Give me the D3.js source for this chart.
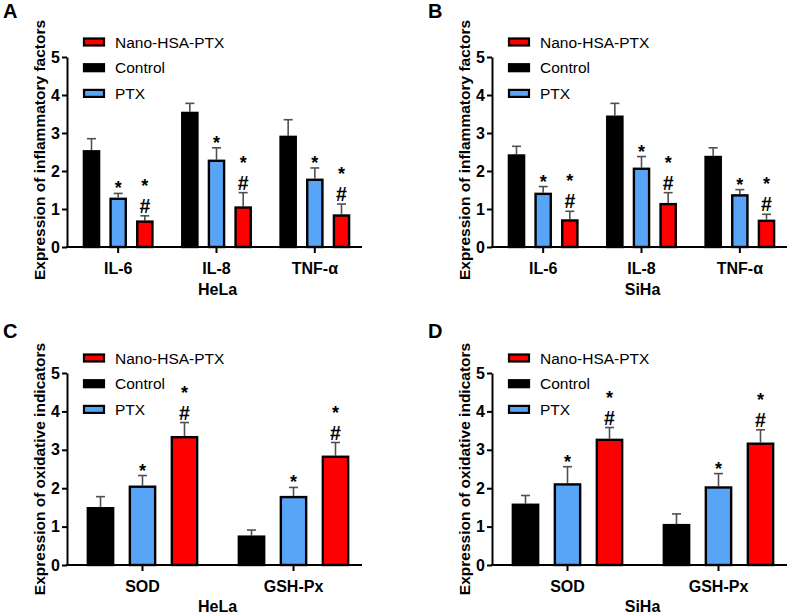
<!DOCTYPE html>
<html>
<head>
<meta charset="utf-8">
<script src="https://cdn.jsdelivr.net/npm/d3@7"></script>
<style>
  html, body { margin: 0; padding: 0; background: #fff; }
  svg { display: block; }
  text { font-family: Arial, "Liberation Sans", sans-serif; }
</style>
</head>
<body>
<svg id="chart" width="789" height="615"></svg>
<script>
// ---------- data ----------
const groups = ["Control", "PTX", "Nano-HSA-PTX"];
const legendOrder = ["Nano-HSA-PTX", "Control", "PTX"];
const groupColors = ["#000000", "#58A4F7", "#FF0000"];
const groupMarks = ["", "*", "*#"];
const yTicks = [0, 1, 2, 3, 4, 5];

const inflamCats = ["IL-6", "IL-8", "TNF-α"];
const oxCats = ["SOD", "GSH-Px"];

// Panel A: HeLa inflammatory factors
const helaInflamControl = [2.55, 3.56, 2.93];
const helaInflamControlErr = [0.30, 0.22, 0.42];
const helaInflamPTX = [1.30, 2.30, 1.80];
const helaInflamPTXErr = [0.11, 0.31, 0.28];
const helaInflamNano = [0.70, 1.07, 0.86];
const helaInflamNanoErr = [0.12, 0.36, 0.27];

// Panel B: SiHa inflammatory factors
const sihaInflamControl = [2.44, 3.46, 2.40];
const sihaInflamControlErr = [0.21, 0.32, 0.21];
const sihaInflamPTX = [1.43, 2.09, 1.39];
const sihaInflamPTXErr = [0.16, 0.29, 0.12];
const sihaInflamNano = [0.73, 1.16, 0.72];
const sihaInflamNanoErr = [0.21, 0.27, 0.14];

// Panel C: HeLa oxidative indicators
const helaOxControl = [1.51, 0.77];
const helaOxControlErr = [0.27, 0.14];
const helaOxPTX = [2.07, 1.80];
const helaOxPTXErr = [0.26, 0.22];
const helaOxNano = [3.36, 2.85];
const helaOxNanoErr = [0.35, 0.34];

// Panel D: SiHa oxidative indicators
const sihaOxControl = [1.60, 1.07];
const sihaOxControlErr = [0.21, 0.26];
const sihaOxPTX = [2.13, 2.05];
const sihaOxPTXErr = [0.43, 0.33];
const sihaOxNano = [3.29, 3.19];
const sihaOxNanoErr = [0.29, 0.33];

const panels = [
  { letter: "A", cats: inflamCats, yTitle: "Expression of inflammatory factors", xTitle: "HeLa",
    values: [helaInflamControl, helaInflamPTX, helaInflamNano],
    errs: [helaInflamControlErr, helaInflamPTXErr, helaInflamNanoErr], col: 0, row: 0 },
  { letter: "B", cats: inflamCats, yTitle: "Expression of inflammatory factors", xTitle: "SiHa",
    values: [sihaInflamControl, sihaInflamPTX, sihaInflamNano],
    errs: [sihaInflamControlErr, sihaInflamPTXErr, sihaInflamNanoErr], col: 1, row: 0 },
  { letter: "C", cats: oxCats, yTitle: "Expression of oxidative indicators", xTitle: "HeLa",
    values: [helaOxControl, helaOxPTX, helaOxNano],
    errs: [helaOxControlErr, helaOxPTXErr, helaOxNanoErr], col: 0, row: 1 },
  { letter: "D", cats: oxCats, yTitle: "Expression of oxidative indicators", xTitle: "SiHa",
    values: [sihaOxControl, sihaOxPTX, sihaOxNano],
    errs: [sihaOxControlErr, sihaOxPTXErr, sihaOxNanoErr], col: 1, row: 1 }
];

// ---------- layout ----------
const svg = d3.select("#chart");
const colX = [67, 492];
const rowY = [{ top: 57, bottom: 247 }, { top: 373, bottom: 565 }];
const axisLen = 295;

panels.forEach(p => {
  const left = colX[p.col];
  const right = left + axisLen;
  const top = rowY[p.row].top;
  const bottom = rowY[p.row].bottom;
  const g = svg.append("g");
  const nCat = p.cats.length;

  const y = d3.scaleLinear().domain([0, 5]).range([bottom, top]);
  const x0 = d3.scaleBand().domain(p.cats)
    .range(nCat === 3 ? [left + 2, left + 297] : [left, left + 302])
    .paddingInner(0).paddingOuter(0);
  const half = nCat === 3 ? 40 : 63;
  const x1 = d3.scaleBand().domain(groups).range([-half, half])
    .paddingInner(0.34).paddingOuter(0.17);

  // bars
  p.cats.forEach((c, ci) => {
    const cx = x0(c) + x0.bandwidth() / 2;
    groups.forEach((grp, gi) => {
      const v = p.values[gi][ci];
      const e = p.errs[gi][ci];
      const bx = cx + x1(grp);
      const bw = x1.bandwidth();
      const bcx = bx + bw / 2;
      // error bar (upper only)
      g.append("line")
        .attr("x1", bcx).attr("x2", bcx)
        .attr("y1", y(v)).attr("y2", y(v + e))
        .attr("stroke", "#505050").attr("stroke-width", 1.6);
      g.append("line")
        .attr("x1", bcx - 4.5).attr("x2", bcx + 4.5)
        .attr("y1", y(v + e)).attr("y2", y(v + e))
        .attr("stroke", "#505050").attr("stroke-width", 1.6);
      g.append("rect")
        .attr("x", bx + 1.2).attr("y", y(v) + 1.2)
        .attr("width", bw - 2.4).attr("height", y(0) - y(v) - 1.2)
        .attr("fill", groupColors[gi])
        .attr("stroke", "#000").attr("stroke-width", 2.4);
      // significance marks
      const m = groupMarks[gi];
      const errTop = y(v + e);
      if (m === "*") {
        g.append("text").attr("x", bcx).attr("y", errTop + 1)
          .attr("text-anchor", "middle").attr("font-weight", "bold")
          .attr("font-size", 18).text("*");
      } else if (m === "*#") {
        g.append("text").attr("x", bcx).attr("y", errTop - 3)
          .attr("text-anchor", "middle").attr("font-weight", "bold")
          .attr("font-size", 19.5).text("#");
        g.append("text").attr("x", bcx).attr("y", errTop - 24)
          .attr("text-anchor", "middle").attr("font-weight", "bold")
          .attr("font-size", 18).text("*");
      }
    });
  });

  // y axis
  const yAxis = g.append("g").attr("transform", `translate(${left},0)`)
    .call(d3.axisLeft(y).tickValues(yTicks).tickFormat(d3.format("d")).tickSize(5).tickSizeOuter(0).tickPadding(2));
  yAxis.select(".domain").attr("stroke-width", 2);
  yAxis.selectAll(".tick line").attr("stroke-width", 2);
  yAxis.selectAll(".tick text").attr("font-size", 16).attr("font-weight", "bold")
    .attr("fill", "#000").attr("font-family", "Arial, 'Liberation Sans', sans-serif");

  // x axis
  const xAxis = g.append("g").attr("transform", `translate(0,${bottom})`)
    .call(d3.axisBottom(x0).tickSize(6).tickSizeOuter(0).tickPadding(10));
  xAxis.select(".domain").remove();
  xAxis.selectAll(".tick line").attr("stroke-width", 2);
  xAxis.selectAll(".tick text").attr("font-size", 16).attr("font-weight", "bold")
    .attr("fill", "#000").attr("font-family", "Arial, 'Liberation Sans', sans-serif");
  g.append("line").attr("x1", left - 1).attr("x2", right)
    .attr("y1", bottom).attr("y2", bottom)
    .attr("stroke", "#000").attr("stroke-width", 2);

  // titles
  g.append("text")
    .attr("transform", `translate(${left - 22},${(top + bottom) / 2 + (p.row ? 0 : -2)}) rotate(-90)`)
    .attr("text-anchor", "middle").attr("font-weight", "bold").attr("font-size", 15.5)
    .text(p.yTitle);
  g.append("text").attr("x", (left + right) / 2 + 3)
    .attr("y", bottom + (p.row ? 47 : 48))
    .attr("text-anchor", "middle").attr("font-weight", "bold").attr("font-size", 16)
    .text(p.xTitle);
  g.append("text").attr("x", left - 64).attr("y", top - (p.row ? 35 : 39))
    .attr("font-weight", "bold").attr("font-size", 20).text(p.letter);

  // legend
  const legTop = top - 15;
  legendOrder.forEach((name, i) => {
    const gi = groups.indexOf(name);
    const ly = legTop + i * 25.7;
    g.append("rect").attr("x", left + 17).attr("y", ly - 3.5)
      .attr("width", 20).attr("height", 7)
      .attr("fill", groupColors[gi]).attr("stroke", "#000").attr("stroke-width", 2.2);
    g.append("text").attr("x", left + 48).attr("y", ly + 5.5)
      .attr("font-size", 15.5).text(name);
  });
});
</script>
</body>
</html>
